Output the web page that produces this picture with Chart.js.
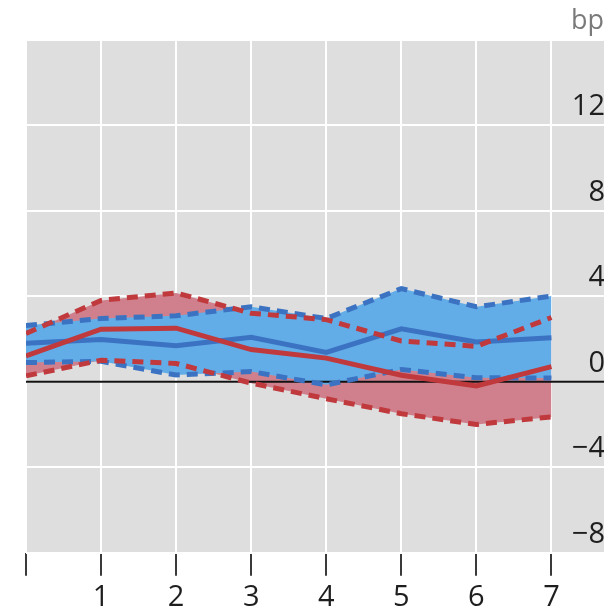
<!DOCTYPE html>
<html>
<head>
<meta charset="utf-8">
<script src="https://cdn.jsdelivr.net/npm/chart.js@4.4.1/dist/chart.umd.min.js"></script>
<style>
  html, body { margin: 0; padding: 0; background: #ffffff; }
  #wrap { width: 604px; height: 610px; }
</style>
</head>
<body>
<div id="wrap"><canvas id="chart" width="604" height="610"></canvas></div>
<script>
// Horizon (x) and the two fan bands, in basis points
const horizon      = [0, 1, 2, 3, 4, 5, 6, 7];
const redUpper     = [2.25, 3.80, 4.15, 3.20, 2.90, 1.90, 1.65, 3.00];
const redCentral   = [1.20, 2.45, 2.50, 1.50, 1.10, 0.30, -0.20, 0.70];
const redLower     = [0.27, 1.00, 0.85, -0.07, -0.80, -1.50, -2.00, -1.65];
const blueUpper    = [2.62, 2.95, 3.08, 3.50, 2.95, 4.35, 3.50, 4.00];
const blueCentral  = [1.80, 1.97, 1.68, 2.07, 1.37, 2.47, 1.85, 2.05];
const blueLower    = [0.89, 0.95, 0.31, 0.47, -0.15, 0.57, 0.18, 0.17];

// Axis labels
const xTickLabels  = ['', '1', '2', '3', '4', '5', '6', '7'];
const yTickValues  = [-8, -4, 0, 4, 8, 12];
const unitLabel    = 'bp';

const RED_LINE  = '#c0393d';
const RED_FILL  = '#cf808c';
const BLUE_LINE = '#3b73c2';
const BLUE_FILL = '#62ade8';

const pts = arr => horizon.map((x, i) => ({ x: x, y: arr[i] }));
const fmtY = v => (v < 0 ? '\u2212' + Math.abs(v) : String(v));

// gray panel behind the plot
const panelBackground = {
  id: 'panelBackground',
  beforeDraw(chart) {
    const { ctx, chartArea: a } = chart;
    ctx.save();
    ctx.fillStyle = '#dedede';
    ctx.fillRect(a.left, a.top, a.right - a.left, a.bottom - a.top);
    ctx.restore();
  }
};

// black zero line, drawn above the bands but below the lines
const zeroLine = {
  id: 'zeroLine',
  beforeDatasetsDraw(chart) {
    const { ctx, chartArea: a, scales } = chart;
    const y = scales.y.getPixelForValue(0);
    ctx.save();
    ctx.strokeStyle = '#111111';
    ctx.lineWidth = 2;
    ctx.beginPath();
    ctx.moveTo(a.left, y);
    ctx.lineTo(a.right, y);
    ctx.stroke();
    ctx.restore();
  }
};

const lineBase = {
  pointRadius: 0,
  pointHoverRadius: 0,
  tension: 0,
  borderWidth: 5,
  borderCapStyle: 'butt',
  fill: false
};
const DASH = [11, 7];

const datasets = [
  // 0..2 red lines (topmost)
  Object.assign({}, lineBase, { label: 'red central', data: pts(redCentral), borderColor: RED_LINE, order: 1 }),
  Object.assign({}, lineBase, { label: 'red upper', data: pts(redUpper), borderColor: RED_LINE, borderDash: DASH, order: 1 }),
  Object.assign({}, lineBase, { label: 'red lower', data: pts(redLower), borderColor: RED_LINE, borderDash: DASH, order: 1 }),
  // 3..5 blue lines
  Object.assign({}, lineBase, { label: 'blue central', data: pts(blueCentral), borderColor: BLUE_LINE, order: 2 }),
  Object.assign({}, lineBase, { label: 'blue upper', data: pts(blueUpper), borderColor: BLUE_LINE, borderDash: DASH, order: 2 }),
  Object.assign({}, lineBase, { label: 'blue lower', data: pts(blueLower), borderColor: BLUE_LINE, borderDash: DASH, order: 2 }),
  // 6..7 shaded bands (blue drawn over red)
  Object.assign({}, lineBase, { label: 'blue band', data: pts(blueUpper), borderWidth: 0, borderColor: 'rgba(0,0,0,0)',
    fill: 5, backgroundColor: BLUE_FILL, order: 3 }),
  Object.assign({}, lineBase, { label: 'red band', data: pts(redUpper), borderWidth: 0, borderColor: 'rgba(0,0,0,0)',
    fill: 2, backgroundColor: RED_FILL, order: 4 })
];

new Chart(document.getElementById('chart'), {
  type: 'line',
  data: { datasets: datasets },
  plugins: [panelBackground, zeroLine],
  options: {
    responsive: false,
    animation: false,
    devicePixelRatio: 1,
    events: [],
    layout: { padding: { left: 26, right: 0, top: 0, bottom: 0 } },
    plugins: {
      legend: { display: false },
      tooltip: { enabled: false },
      filler: { drawTime: 'beforeDatasetsDraw' },
      title: {
        display: true,
        text: unitLabel,
        align: 'end',
        position: 'top',
        color: '#7a7a7a',
        font: { family: 'Open Sans', size: 27, weight: 'normal' },
        padding: { top: 5, bottom: 2.1 }
      }
    },
    scales: {
      x: {
        type: 'linear',
        min: 0,
        max: 7.7,
        offset: false,
        border: { display: false },
        grid: {
          color: '#ffffff',
          lineWidth: 2,
          drawOnChartArea: true,
          drawTicks: true,
          tickLength: 23,
          tickWidth: 2,
          tickColor: '#3a3a3a'
        },
        ticks: {
          stepSize: 1,
          includeBounds: false,
          autoSkip: false,
          maxRotation: 0,
          padding: 4.4,
          color: '#1e1e1e',
          font: { family: 'Open Sans', size: 29 },
          callback: v => (xTickLabels[v] !== undefined ? xTickLabels[v] : '')
        },
        afterFit(scale) {
          scale.height = 57.3;
          scale.paddingLeft = 0;
          scale.paddingRight = 0;
        }
      },
      y: {
        type: 'linear',
        position: 'right',
        min: -8,
        max: 16,
        border: { display: false },
        grid: {
          color: '#ffffff',
          lineWidth: 2,
          drawTicks: false
        },
        ticks: {
          stepSize: 4,
          mirror: true,
          padding: 1,
          labelOffset: -18,
          color: '#1e1e1e',
          font: { family: 'Open Sans', size: 29 },
          callback: v => (yTickValues.includes(v) ? fmtY(v) : '')
        },
        afterFit(scale) {
          scale.width = 0;
          scale.paddingTop = 0;
          scale.paddingBottom = 0;
        }
      }
    }
  }
});
</script>
</body>
</html>
